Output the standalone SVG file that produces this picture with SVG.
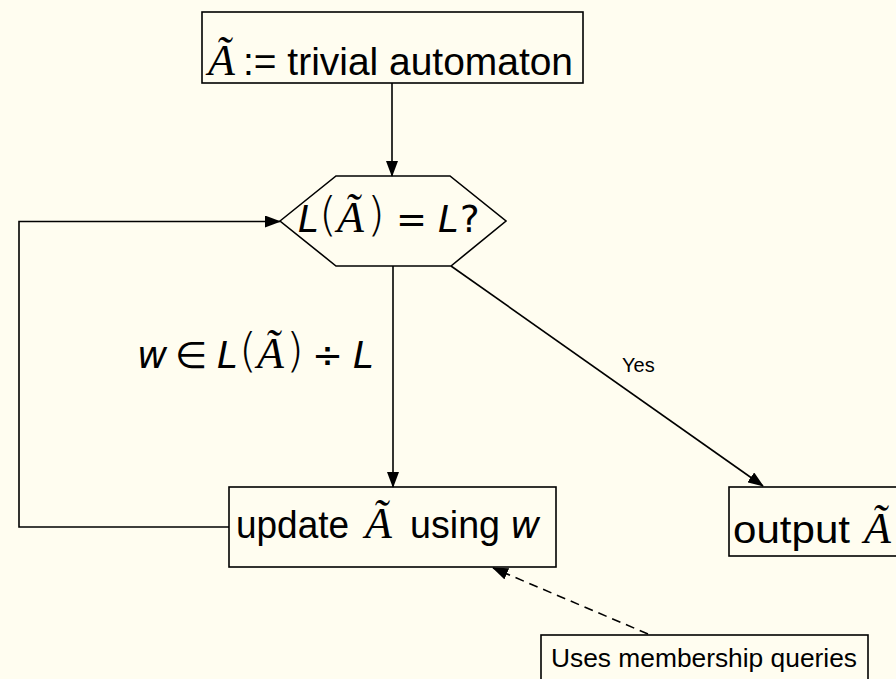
<svg xmlns="http://www.w3.org/2000/svg" width="896" height="679" viewBox="0 0 896 679">
  <style>
    .bg { fill: #fffdf0; }
    .box { fill: none; stroke: #000; stroke-width: 1.6; }
    .edge { fill: none; stroke: #000; stroke-width: 1.6; }
    .dash { stroke-dasharray: 9 6; }
    .txt { font-family: "Liberation Sans", Arial, sans-serif; font-size: 38px; fill: #000; }
    .small { font-family: "Liberation Sans", Arial, sans-serif; font-size: 20px; fill: #000; }
    .note { font-family: "Liberation Sans", Arial, sans-serif; font-size: 26px; fill: #000; }
    .m { font-family: "DejaVu Sans", sans-serif; font-size: 37px; fill: #000; }
    .mi { font-style: italic; }
    .cal { font-family: "Liberation Serif", "DejaVu Serif", serif; font-style: italic; font-size: 44px; fill: #000; }
    .pa { font-size: 46px; font-weight: 200; }
  </style>
  <defs>
    <marker id="arrow" markerUnits="userSpaceOnUse" markerWidth="16" markerHeight="12" refX="15" refY="6" orient="auto">
      <path d="M0,0 L16,6 L0,12 Z" fill="#000"/>
    </marker>
  </defs>

  <rect class="bg" x="0" y="0" width="896" height="679"/>

  <!-- connectors -->
  <g id="connectors">
    <line class="edge" x1="392" y1="83" x2="392" y2="176" marker-end="url(#arrow)"/>
    <line class="edge" x1="393" y1="266" x2="393" y2="487" marker-end="url(#arrow)"/>
    <line class="edge" x1="451" y1="266" x2="763" y2="486" marker-end="url(#arrow)"/>
    <polyline class="edge" points="229,527 19,527 19,221.5 280,221.5" marker-end="url(#arrow)"/>
    <line class="edge dash" x1="648" y1="634" x2="493" y2="568" marker-end="url(#arrow)"/>
    <!-- edge labels -->
    <text class="small" x="622" y="372">Yes</text>
    <text id="label-counterexample" class="m"><tspan class="mi" x="137" y="368">w</tspan><tspan x="175" y="368">∈</tspan><tspan class="mi" x="217" y="368">L</tspan><tspan class="pa" x="239" y="366">(</tspan><tspan class="cal" x="257" y="368">Ã</tspan><tspan class="pa" x="286" y="366">)</tspan><tspan x="312" y="368">÷</tspan><tspan class="mi" x="353" y="368">L</tspan></text>
  </g>

  <!-- start node -->
  <g id="start">
    <rect class="box" x="202" y="12" width="381" height="71"/>
    <text class="cal" x="208" y="75">Ã</text>
    <text class="txt" x="243" y="75" textLength="330" lengthAdjust="spacingAndGlyphs">:= trivial automaton</text>
  </g>

  <!-- equivalence check -->
  <g id="check">
    <polygon class="box" points="280,221 336,176 450,176 506,221 451,266 336,266"/>
    <text class="m"><tspan class="mi" x="298" y="232">L</tspan><tspan class="pa" x="319" y="230">(</tspan><tspan class="cal" x="337" y="232">Ã</tspan><tspan class="pa" x="367" y="230">)</tspan><tspan x="396" y="232">=</tspan><tspan class="mi" x="438" y="232">L</tspan><tspan x="460" y="232">?</tspan></text>
  </g>

  <!-- update step -->
  <g id="update">
    <rect class="box" x="229" y="487" width="327" height="80"/>
    <text class="txt" x="236" y="538" textLength="113" lengthAdjust="spacingAndGlyphs">update</text>
    <text class="cal" x="365" y="538">Ã</text>
    <text class="txt" x="410" y="538" textLength="90" lengthAdjust="spacingAndGlyphs">using</text>
    <text class="m"><tspan class="mi" x="510" y="538">w</tspan></text>
  </g>

  <!-- result -->
  <g id="output">
    <rect class="box" x="729" y="487" width="180" height="69"/>
    <text class="txt" x="733" y="543" textLength="117" lengthAdjust="spacingAndGlyphs">output</text>
    <text class="cal" x="864" y="543">Ã</text>
  </g>

  <!-- note -->
  <g id="note">
    <rect class="box" x="541" y="635" width="327" height="60"/>
    <text class="note" x="551" y="667" textLength="306" lengthAdjust="spacingAndGlyphs">Uses membership queries</text>
  </g>
</svg>
